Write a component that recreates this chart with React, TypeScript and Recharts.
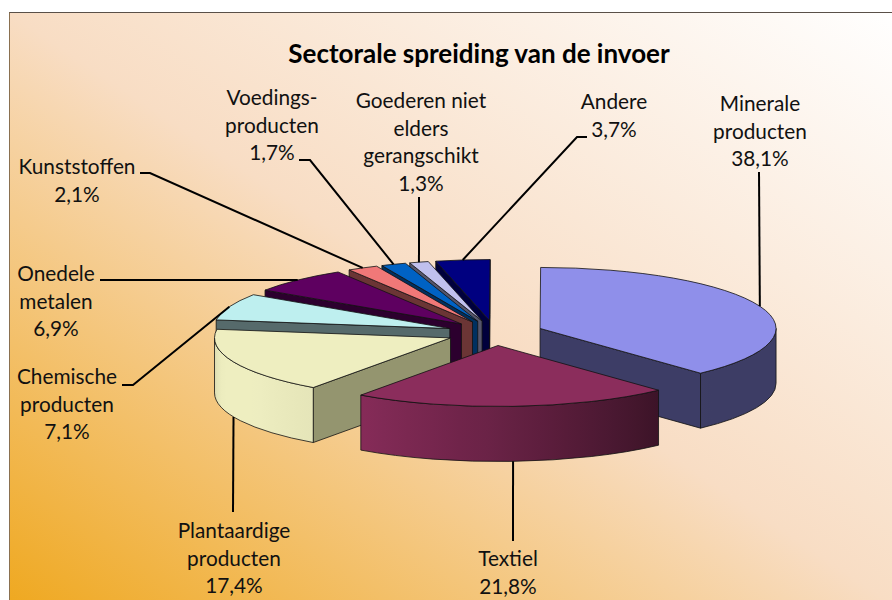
import React from 'react';
import { PieChart, Pie } from 'recharts';

// listed in painting order (back to front), running counter-clockwise from the Minerale slice
const categories = [
  'Minerale producten',
  'Andere',
  'Goederen niet elders gerangschikt',
  'Voedingsproducten',
  'Kunststoffen',
  'Onedele metalen',
  'Chemische producten',
  'Plantaardige producten',
  'Textiel',
];
const values = [38.1, 3.7, 1.3, 1.7, 2.1, 6.9, 7.1, 17.4, 21.8];
const labelNames = [
  ['Minerale', 'producten'],
  ['Andere'],
  ['Goederen niet', 'elders', 'gerangschikt'],
  ['Voedings-', 'producten'],
  ['Kunststoffen'],
  ['Onedele', 'metalen'],
  ['Chemische', 'producten'],
  ['Plantaardige', 'producten'],
  ['Textiel'],
];
const topColors = ['#8F8FEA', '#000080', '#C0C0EE', '#0062C4', '#F07878', '#5E0060', '#BEEFEF', '#EEEEC0', '#8B2D5C'];
const wallColors = ['#3D3D66', '#00003C', '#55556B', '#003060', '#6B3535', '#2C002E', '#566A6B', '#94956F', '#3C1225'];

// label placement: text centre x, first baseline y, elbow of the leader line
const labelLayout = [
  { x: 760, y: 111, line: [[759, 172]] },
  { x: 614, y: 109, line: [[577, 137], [587, 137]] },
  { x: 421, y: 108, line: [[419, 197]] },
  { x: 272, y: 105, line: [[310, 160], [299, 160]] },
  { x: 77, y: 174, line: [[150, 173], [140, 173]] },
  { x: 56, y: 281, line: [[100, 280]] },
  { x: 67, y: 384, line: [[133, 385], [122, 385]] },
  { x: 234, y: 538, line: [[233, 512]] },
  { x: 508, y: 566, line: [[513, 541]] },
];

// how much light the rim gets, by clock angle
const rimLight = [[90, 0.43], [137, 0.43], [160, 0.6], [180, 0.75], [215, 0.96], [235, 1], [255, 1], [270, 0.9]];

const TILT = 0.2585;
const DEPTH = 55;
const EXPLODE = 0.205;
const RAD = Math.PI / 180;

const rows = categories.map((name, i) => ({ name, value: values[i], i }));

const apexOf = (cx: number, cy: number, r: number, mid: number) => ({
  x: cx + r * EXPLODE * Math.cos(mid * RAD),
  y: cy - r * EXPLODE * TILT * Math.sin(mid * RAD),
});

const rimOf = (ax: number, ay: number, r: number, a: number) => ({
  x: ax + r * Math.cos(a * RAD),
  y: ay - r * TILT * Math.sin(a * RAD),
});

const shadeColor = (hex: string, f: number) => {
  const n = parseInt(hex.slice(1), 16);
  const ch = (v: number) => Math.round(v * f);
  return `rgb(${ch((n >> 16) & 255)},${ch((n >> 8) & 255)},${ch(n & 255)})`;
};

const lightAt = (a: number) => {
  const clock = ((90 - a) % 360 + 360) % 360;
  for (let k = 1; k < rimLight.length; k++) {
    if (clock <= rimLight[k][0]) {
      const [c0, l0] = rimLight[k - 1];
      const [c1, l1] = rimLight[k];
      return l0 + ((l1 - l0) * (clock - c0)) / (c1 - c0);
    }
  }
  return rimLight[rimLight.length - 1][1];
};

const outline = { stroke: '#111', strokeWidth: 0.8, strokeLinejoin: 'round' as const };

const Slice3D = (p: any) => {
  const { cx, cy, outerRadius: r, startAngle, endAngle } = p;
  const i = p.payload?.i ?? p.i;
  const a0 = Math.min(startAngle, endAngle);
  const a1 = Math.max(startAngle, endAngle);
  const apex = apexOf(cx, cy, r, (a0 + a1) / 2);
  const rim = (a: number) => rimOf(apex.x, apex.y, r, a);
  const ry = r * TILT;
  const start = rim(a0);
  const end = rim(a1);
  const top = topColors[i];
  const wall = wallColors[i];

  const radial = (q: { x: number; y: number }) =>
    `M${apex.x},${apex.y} L${q.x},${q.y} L${q.x},${q.y + DEPTH} L${apex.x},${apex.y + DEPTH} Z`;

  // only the part of the rim on the lower half of the ellipse faces the viewer
  const rimParts = [[-180, 0], [180, 360]]
    .map(([lo, hi]) => [Math.max(a0, lo), Math.min(a1, hi)])
    .filter(([lo, hi]) => hi > lo);

  return (
    <g>
      {Math.cos(a0 * RAD) > 0.001 && <path d={radial(start)} fill={wall} {...outline} />}
      {Math.cos(a1 * RAD) < -0.001 && <path d={radial(end)} fill={wall} {...outline} />}
      {rimParts.map(([lo, hi], k) => {
        const q0 = rim(lo);
        const q1 = rim(hi);
        const id = `rim-${i}-${k}`;
        const stops = Array.from({ length: 13 }, (_, s) => {
          const a = lo + ((hi - lo) * s) / 12;
          const off = (rim(a).x - q0.x) / (q1.x - q0.x);
          return <stop key={s} offset={off} stopColor={shadeColor(top, lightAt(a))} />;
        });
        return (
          <g key={id}>
            <defs>
              <linearGradient id={id} gradientUnits="userSpaceOnUse" x1={q0.x} y1={0} x2={q1.x} y2={0}>
                {stops}
              </linearGradient>
            </defs>
            <path
              d={`M${q0.x},${q0.y} A${r},${ry} 0 0 0 ${q1.x},${q1.y} L${q1.x},${q1.y + DEPTH} A${r},${ry} 0 0 1 ${q0.x},${q0.y + DEPTH} Z`}
              fill={`url(#${id})`}
              {...outline}
            />
          </g>
        );
      })}
      <path
        d={`M${apex.x},${apex.y} L${start.x},${start.y} A${r},${ry} 0 0 0 ${end.x},${end.y} Z`}
        fill={top}
        {...outline}
      />
    </g>
  );
};

const SliceLabel = (p: any) => {
  const { cx, cy, outerRadius: r, startAngle, endAngle } = p;
  const i = p.payload?.i ?? p.i;
  const mid = (startAngle + endAngle) / 2;
  const apex = apexOf(cx, cy, r, mid);
  const from = rimOf(apex.x, apex.y, r, mid);
  // leaders of the front slices leave from the bottom of the rim
  const fromY = Math.sin(mid * RAD) < 0 ? from.y + DEPTH : from.y;
  const layout = labelLayout[i];
  const pts = [[from.x, fromY], ...layout.line].map((q) => q.join(',')).join(' ');
  const lines = [...labelNames[i], `${values[i].toFixed(1).replace('.', ',')}%`];
  const baselines = lines.map((_, k) => layout.y + k * 27.7);
  return (
    <g>
      <polyline points={pts} fill="none" stroke="#000" strokeWidth={2} />
      {lines.map((t, k) => (
        <text key={k} x={layout.x} y={baselines[k]} textAnchor="middle" fontFamily="Lato, sans-serif" fontSize={20.8} fill="#111">
          {t}
        </text>
      ))}
    </g>
  );
};

const App: React.FC = () => {
  return (
    <div style={{ position: 'absolute', left: 0, top: 0, width: 892, height: 600, overflow: 'hidden', background: '#fff' }}>
      <div
        style={{
          position: 'absolute',
          left: 9,
          top: 12,
          width: 890,
          height: 595,
          borderTop: '1px solid #5a5048',
          borderLeft: '1px solid #8a7050',
          background: 'linear-gradient(to top right, #EFA81F 0%, #F8DDC4 50%, #FFFFFF 100%)',
        }}
      />
      <div style={{ position: 'absolute', left: 0, top: 0 }}>
        <PieChart width={892} height={600} margin={{ top: 0, right: 0, bottom: 0, left: 0 }}>
          <text x={479} y={63} textAnchor="middle" fontFamily="Lato, sans-serif" fontWeight={700} fontSize={26} fill="#000">
            Sectorale spreiding van de invoer
          </text>
          <Pie
            data={rows}
            dataKey="value"
            nameKey="name"
            cx={495}
            cy={333}
            innerRadius={0}
            outerRadius={236}
            startAngle={90 - values[0] * 3.6}
            endAngle={450 - values[0] * 3.6}
            stroke="none"
            shape={Slice3D}
            label={SliceLabel}
            labelLine={false}
            isAnimationActive={false}
          />
        </PieChart>
      </div>
    </div>
  );
};

export default App;
